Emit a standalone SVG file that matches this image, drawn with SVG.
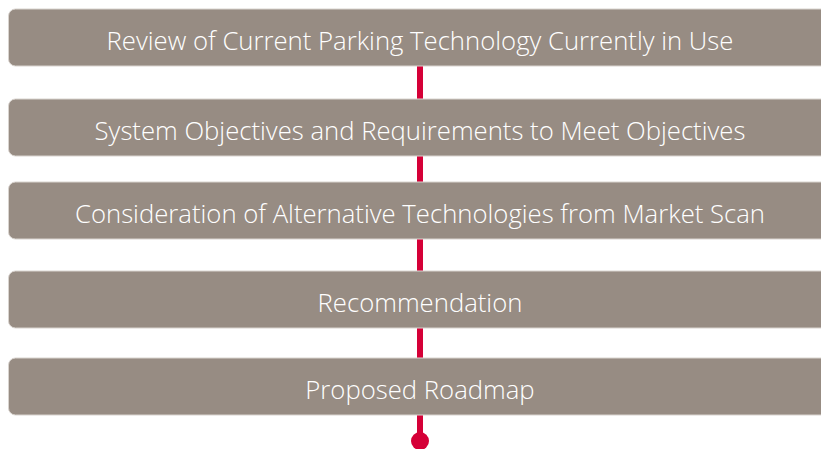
<svg xmlns="http://www.w3.org/2000/svg" width="821" height="449" viewBox="0 0 821 449">
  <style>
    .box { fill: #978c83; stroke: #d9d4cf; stroke-width: 1; }
    .label { fill: #ffffff; font-family: "Open Sans", "Noto Sans", sans-serif; font-weight: 300; font-size: 25.7px; text-anchor: middle; }
    .spine { stroke: #d50037; stroke-width: 6; }
  </style>
  <rect width="821" height="449" fill="#ffffff"/>
  <!-- vertical spine linking the steps -->
  <g id="connectors">
    <line class="spine" x1="420" y1="66" x2="420" y2="440"/>
    <circle cx="420" cy="441" r="9" fill="#d50037"/>
  </g>
  <g id="step1">
    <rect class="box" x="8.5" y="9" width="830" height="57" rx="7"/>
    <text class="label" x="420" y="50">Review of Current Parking Technology Currently in Use</text>
  </g>
  <g id="step2">
    <rect class="box" x="8.5" y="99" width="830" height="57" rx="7"/>
    <text class="label" x="420" y="140">System Objectives and Requirements to Meet Objectives</text>
  </g>
  <g id="step3">
    <rect class="box" x="8.5" y="182" width="830" height="57" rx="7"/>
    <text class="label" x="420" y="223">Consideration of Alternative Technologies from Market Scan</text>
  </g>
  <g id="step4">
    <rect class="box" x="8.5" y="271" width="830" height="57" rx="7"/>
    <text class="label" x="420" y="312">Recommendation</text>
  </g>
  <g id="step5">
    <rect class="box" x="8.5" y="358" width="830" height="57" rx="7"/>
    <text class="label" x="420" y="399">Proposed Roadmap</text>
  </g>
</svg>
